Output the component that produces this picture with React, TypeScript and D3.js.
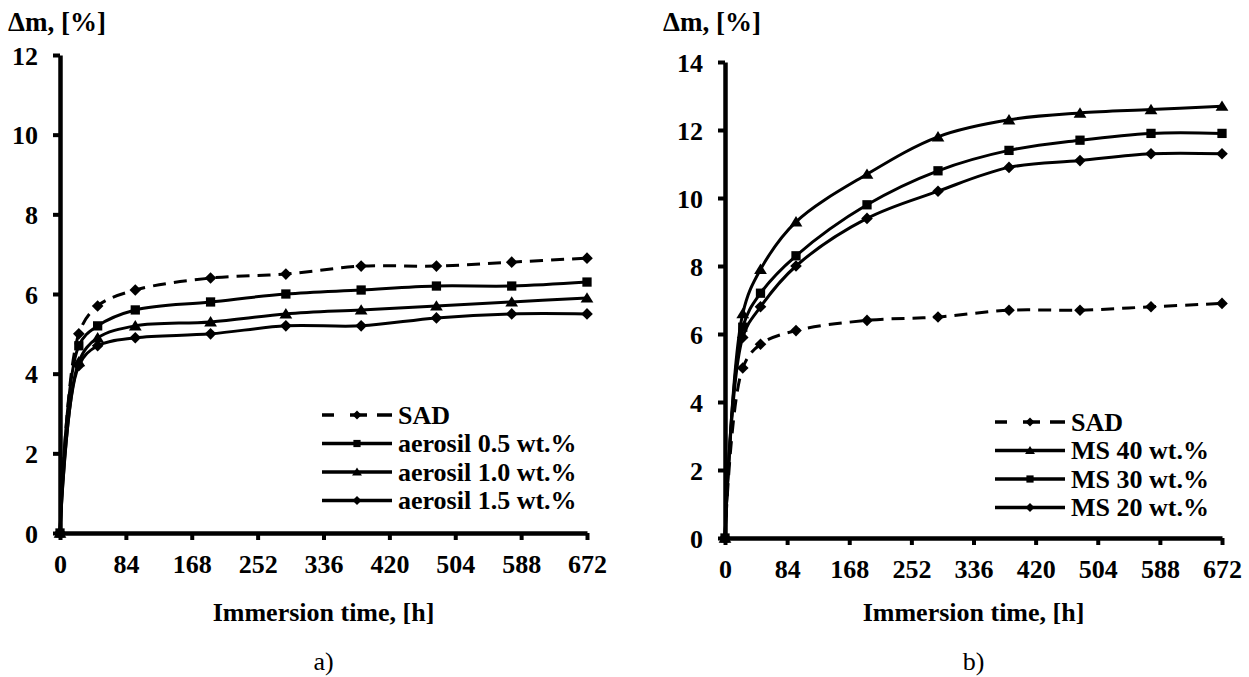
import React, { useEffect, useRef } from "react";
import * as d3 from "d3";

// immersion times where mass gain was measured
const hours = [0, 24, 48, 96, 192, 288, 384, 480, 576, 672];
const xTicks = [0, 84, 168, 252, 336, 420, 504, 588, 672];

// panel a) values, Δm %
const sad = [0, 5.0, 5.7, 6.1, 6.4, 6.5, 6.7, 6.7, 6.8, 6.9];
const aerosil05 = [0, 4.7, 5.2, 5.6, 5.8, 6.0, 6.1, 6.2, 6.2, 6.3];
const aerosil10 = [0, 4.3, 4.9, 5.2, 5.3, 5.5, 5.6, 5.7, 5.8, 5.9];
const aerosil15 = [0, 4.2, 4.7, 4.9, 5.0, 5.2, 5.2, 5.4, 5.5, 5.5];

// panel b) values
const ms40 = [0, 6.6, 7.9, 9.3, 10.7, 11.8, 12.3, 12.5, 12.6, 12.7];
const ms30 = [0, 6.2, 7.2, 8.3, 9.8, 10.8, 11.4, 11.7, 11.9, 11.9];
const ms20 = [0, 5.9, 6.8, 8.0, 9.4, 10.2, 10.9, 11.1, 11.3, 11.3];

const leftYTicks = [0, 2, 4, 6, 8, 10, 12];
const rightYTicks = [0, 2, 4, 6, 8, 10, 12, 14];

const leftSeries = [
  { name: "SAD", values: sad, marker: "diamond", dashed: true },
  { name: "aerosil 0.5 wt.%", values: aerosil05, marker: "square", dashed: false },
  { name: "aerosil 1.0 wt.%", values: aerosil10, marker: "triangle", dashed: false },
  { name: "aerosil 1.5 wt.%", values: aerosil15, marker: "diamond", dashed: false },
];

const rightSeries = [
  { name: "SAD", values: sad, marker: "diamond", dashed: true },
  { name: "MS 40 wt.%", values: ms40, marker: "triangle", dashed: false },
  { name: "MS 30 wt.%", values: ms30, marker: "square", dashed: false },
  { name: "MS 20 wt.%", values: ms20, marker: "diamond", dashed: false },
];

const FONT = "'Liberation Serif', 'Times New Roman', serif";

const markerPath = (type, s) => {
  if (type === "square") {
    const h = s * 0.8;
    return `M${-h},${-h}H${h}V${h}H${-h}Z`;
  }
  if (type === "triangle") {
    return `M0,${-s}L${s * 1.1},${s * 0.8}L${-s * 1.1},${s * 0.8}Z`;
  }
  return `M0,${-s}L${s},0L0,${s}L${-s},0Z`;
};

const drawPanel = (svg, p) => {
  const x = d3.scaleLinear().domain([0, 672]).range([p.x0, p.x1]);
  const y = d3.scaleLinear().domain([0, p.yMax]).range([p.yBottom, p.yTop]);

  const g = svg.append("g").style("font-family", FONT);

  // curves
  const line = d3
    .line()
    .x((d, i) => x(hours[i]))
    .y(d => y(d))
    .curve(d3.curveCatmullRom.alpha(0.5));

  p.series.forEach(s => {
    g.append("path")
      .attr("d", line(s.values))
      .attr("fill", "none")
      .attr("stroke", "#000")
      .attr("stroke-width", 3)
      .attr("stroke-dasharray", s.dashed ? "13,8" : null);
  });

  p.series.forEach(s => {
    g.selectAll(null)
      .data(s.values)
      .join("path")
      .attr("transform", (d, i) => `translate(${x(hours[i])},${y(d)})`)
      .attr("d", markerPath(s.marker, 5.8))
      .attr("fill", "#000");
  });

  // axes
  const xAxis = g
    .append("g")
    .attr("transform", `translate(0,${p.yBottom})`)
    .call(d3.axisBottom(x).tickValues(xTicks).tickSize(7).tickSizeOuter(0).tickPadding(15));
  const yAxis = g
    .append("g")
    .attr("transform", `translate(${p.x0},0)`)
    .call(d3.axisLeft(y).tickValues(p.yTicks).tickSize(7).tickSizeOuter(0).tickPadding(15));

  [xAxis, yAxis].forEach(a => {
    a.attr("font-family", null);
    a.select(".domain").attr("stroke-width", 4.5).attr("stroke", "#000");
    a.selectAll(".tick line").attr("stroke-width", 4).attr("stroke", "#000");
    a.selectAll(".tick text")
      .style("font-family", FONT)
      .attr("font-weight", "bold")
      .attr("font-size", 26)
      .attr("fill", "#000");
  });
  yAxis.selectAll(".tick text").attr("dy", "0.35em");

  // titles
  g.append("text")
    .attr("x", p.titleX)
    .attr("y", 31)
    .attr("font-weight", "bold")
    .attr("font-size", 27)
    .text("Δm, [%]");

  const cx = (p.x0 + p.x1) / 2;
  g.append("text")
    .attr("x", cx)
    .attr("y", 621)
    .attr("text-anchor", "middle")
    .attr("font-weight", "bold")
    .attr("font-size", 26)
    .text("Immersion time, [h]");

  g.append("text")
    .attr("x", cx)
    .attr("y", 670)
    .attr("text-anchor", "middle")
    .attr("font-size", 26)
    .text(p.caption);

  // legend
  p.series.forEach((s, i) => {
    const ly = p.legendY + i * p.legendStep;
    const lg = g.append("g");
    lg.append("line")
      .attr("x1", p.legendX)
      .attr("x2", p.legendX + 70)
      .attr("y1", ly)
      .attr("y2", ly)
      .attr("stroke", "#000")
      .attr("stroke-width", 3.5)
      .attr("stroke-dasharray", s.dashed ? "12,16,17,10,15" : null);
    lg.append("path")
      .attr("transform", `translate(${p.legendX + 35},${ly})`)
      .attr("d", markerPath(s.marker, 4.5))
      .attr("fill", "#000");
    lg.append("text")
      .attr("x", p.legendX + 76)
      .attr("y", ly)
      .attr("dy", "0.33em")
      .attr("font-weight", "bold")
      .attr("font-size", 26)
      .text(s.name);
  });
};

const App = () => {
  const ref = useRef(null);

  useEffect(() => {
    document.body.style.margin = "0";
    const svg = d3.select(ref.current);
    svg.selectAll("*").remove();

    drawPanel(svg, {
      x0: 60, x1: 587, yTop: 55, yBottom: 533, yMax: 12,
      yTicks: leftYTicks, series: leftSeries, titleX: 8,
      legendX: 322, legendY: 415, legendStep: 28.5, caption: "a)",
    });
    drawPanel(svg, {
      x0: 725, x1: 1222, yTop: 62, yBottom: 538, yMax: 14,
      yTicks: rightYTicks, series: rightSeries, titleX: 663,
      legendX: 995, legendY: 422, legendStep: 28.5, caption: "b)",
    });
  }, []);

  return <svg ref={ref} width={1249} height={677} style={{ display: "block", background: "#fff" }} />;
};

export default App;
